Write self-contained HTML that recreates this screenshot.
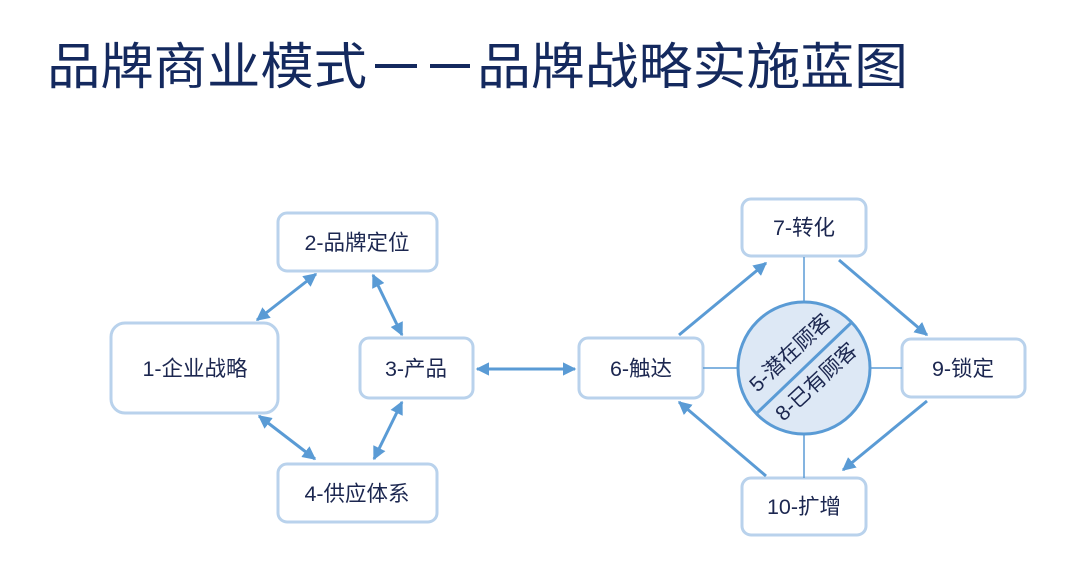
<!DOCTYPE html>
<html><head><meta charset="utf-8"><style>
html,body{margin:0;padding:0;background:#fff;}
svg{display:block;}
text{font-family:"Liberation Sans","Noto Sans CJK SC",sans-serif;fill:#1c2750;}
</style></head><body>
<svg width="1080" height="571" viewBox="0 0 1080 571" xmlns="http://www.w3.org/2000/svg">
<defs>
<marker id="a" viewBox="0 0 10 10" refX="9" refY="5" markerWidth="4.5" markerHeight="4.5" orient="auto-start-reverse">
<path d="M0,0 L10,5 L0,10 z" fill="#5a9bd5"/></marker>
</defs>
<g style="fill:#14295e">
<text x="47" y="84" font-size="50" textLength="320" lengthAdjust="spacingAndGlyphs" style="fill:#14295e">品牌商业模式</text>
<rect x="375" y="64" width="42" height="4"/>
<rect x="430" y="64" width="40" height="4"/>
<text x="477" y="84" font-size="50" textLength="431" lengthAdjust="spacingAndGlyphs" style="fill:#14295e">品牌战略实施蓝图</text>
</g>

<g fill="#fff" stroke="#b9d2ec" stroke-width="3">
<rect x="111" y="323" width="167" height="90" rx="14"/>
<rect x="278" y="213" width="159" height="58" rx="9"/>
<rect x="360" y="338" width="113" height="60" rx="9"/>
<rect x="278" y="464" width="159" height="58" rx="9"/>
<rect x="579" y="338" width="124" height="60" rx="9"/>
<rect x="742" y="199" width="124" height="57" rx="9"/>
<rect x="902" y="339" width="123" height="58" rx="9"/>
<rect x="742" y="478" width="124" height="57" rx="9"/>
</g>

<g stroke="#5a9bd5" stroke-width="3" fill="none">
<line x1="257" y1="320" x2="316" y2="274" marker-start="url(#a)" marker-end="url(#a)"/>
<line x1="373" y1="275" x2="402" y2="335" marker-start="url(#a)" marker-end="url(#a)"/>
<line x1="259" y1="416" x2="315" y2="459" marker-start="url(#a)" marker-end="url(#a)"/>
<line x1="402" y1="402" x2="374" y2="459" marker-start="url(#a)" marker-end="url(#a)"/>
<line x1="477" y1="369" x2="575" y2="369" marker-start="url(#a)" marker-end="url(#a)"/>
<line x1="679" y1="335" x2="766" y2="263" marker-end="url(#a)"/>
<line x1="839" y1="260" x2="927" y2="335" marker-end="url(#a)"/>
<line x1="927" y1="401" x2="843" y2="470" marker-end="url(#a)"/>
<line x1="766" y1="476" x2="679" y2="402" marker-end="url(#a)"/>
</g>
<g stroke="#5a9bd5" stroke-width="1.5">
<line x1="804" y1="257" x2="804" y2="302"/>
<line x1="804" y1="434" x2="804" y2="478"/>
<line x1="703" y1="368" x2="737" y2="368"/>
<line x1="870" y1="368" x2="902" y2="368"/>
</g>
<circle cx="804" cy="368" r="66" fill="#dde8f5" stroke="#5a9bd5" stroke-width="3"/>
<line x1="852" y1="322" x2="757" y2="413" stroke="#5a9bd5" stroke-width="3"/>
<text transform="translate(795,358) rotate(-43)" font-size="21" text-anchor="middle">5-潜在顾客</text>
<text transform="translate(821,387) rotate(-43)" font-size="21" text-anchor="middle">8-已有顾客</text>

<g font-size="21.5" text-anchor="middle">
<text x="195" y="376">1-企业战略</text>
<text x="357" y="250">2-品牌定位</text>
<text x="416" y="376">3-产品</text>
<text x="357" y="501">4-供应体系</text>
<text x="641" y="376">6-触达</text>
<text x="804" y="235">7-转化</text>
<text x="963" y="376">9-锁定</text>
<text x="804" y="514">10-扩增</text>
</g>
</svg>
</body></html>
